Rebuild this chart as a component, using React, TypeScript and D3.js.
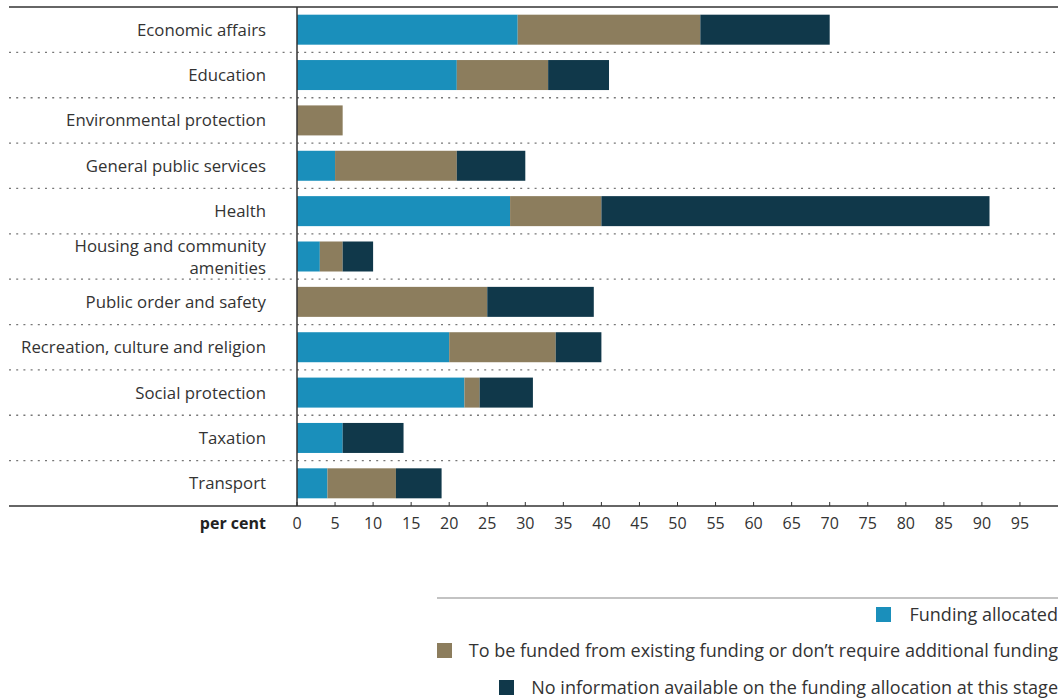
import React from "react";
import * as d3 from "d3";

const categories = [
  "Economic affairs",
  "Education",
  "Environmental protection",
  "General public services",
  "Health",
  "Housing and community amenities",
  "Public order and safety",
  "Recreation, culture and religion",
  "Social protection",
  "Taxation",
  "Transport",
];
const funded = [29, 21, 0, 5, 28, 3, 0, 20, 22, 6, 4];
const existing = [24, 12, 6, 16, 12, 3, 25, 14, 2, 0, 9];
const noInfo = [17, 8, 0, 9, 51, 4, 14, 6, 7, 8, 6];
const seriesNames = [
  "Funding allocated",
  "To be funded from existing funding or don’t require additional funding",
  "No information available on the funding allocation at this stage",
];
const colors = ["#1a8fbb", "#8c7d5d", "#10384a"];
const ticks = d3.range(0, 100, 5);

export default function App() {
  const W = 1058, H = 700;
  const left = 297, right = 1058, top = 7, bottom = 506;
  const x = d3.scaleLinear().domain([0, 100]).range([left, right]);
  const y = d3.scaleBand<string>().domain(categories).range([top, bottom]);
  const barH = 30;
  const font = "'Open Sans', sans-serif";
  const series = [funded, existing, noInfo];

  const rows = categories.map((c, i) => {
    let acc = 0;
    return series.map((s, k) => {
      const x0 = acc;
      acc += s[i];
      return { k, x0, x1: acc };
    });
  });

  const legendY = [615, 651, 688];

  return (
    <svg width={W} height={H} style={{ position: "absolute", left: 0, top: 0 }} fontFamily={font}>
      <line x1={9} x2={right} y1={top} y2={top} stroke="#333" strokeWidth={1.5} />
      {categories.slice(0, -1).map((c) => (
        <line key={c} x1={9} x2={right} y1={(y(c) as number) + y.bandwidth()} y2={(y(c) as number) + y.bandwidth()}
          stroke="#777" strokeWidth={1.3} strokeDasharray="2 5.2" />
      ))}
      {categories.map((c, i) => {
        const cy = (y(c) as number) + y.bandwidth() / 2;
        return (
          <g key={c}>
            {rows[i].map((r) => r.x1 > r.x0 ? (
              <rect key={r.k} x={x(r.x0)} y={cy - barH / 2} width={x(r.x1) - x(r.x0)} height={barH} fill={colors[r.k]} />
            ) : null)}
            {c === "Housing and community amenities" ? (
              <text textAnchor="end" fontSize={16.8} fill="#333">
                <tspan x={266} y={cy - 5}>Housing and community</tspan>
                <tspan x={266} y={cy + 17}>amenities</tspan>
              </text>
            ) : (
              <text x={266} y={cy + 6} textAnchor="end" fontSize={16.8} fill="#333">{c}</text>
            )}
          </g>
        );
      })}
      <line x1={left} x2={left} y1={top} y2={bottom} stroke="#333" strokeWidth={1.5} />
      <line x1={9} x2={right} y1={bottom} y2={bottom} stroke="#333" strokeWidth={1.5} />
      {ticks.map((t) => (
        <g key={t}>
          <line x1={x(t)} x2={x(t)} y1={bottom} y2={bottom - 4} stroke="#333" strokeWidth={1} />
          <text x={x(t)} y={529} textAnchor="middle" fontSize={16} fill="#333">{t}</text>
        </g>
      ))}
      <text x={266} y={529} textAnchor="end" fontSize={16} fontWeight="bold" fill="#222">per cent</text>
      <line x1={437} x2={right} y1={598} y2={598} stroke="#888" strokeWidth={1.2} />
      {seriesNames.map((n, k) => (
        <text key={n} x={right} y={legendY[k] + 6} textAnchor="end" fontSize={18} fill="#333">{n}</text>
      ))}
      {[876, 437, 499].map((lx, k) => (
        <rect key={k} x={lx} y={legendY[k] - 8} width={15} height={15} fill={colors[k]} />
      ))}
    </svg>
  );
}
